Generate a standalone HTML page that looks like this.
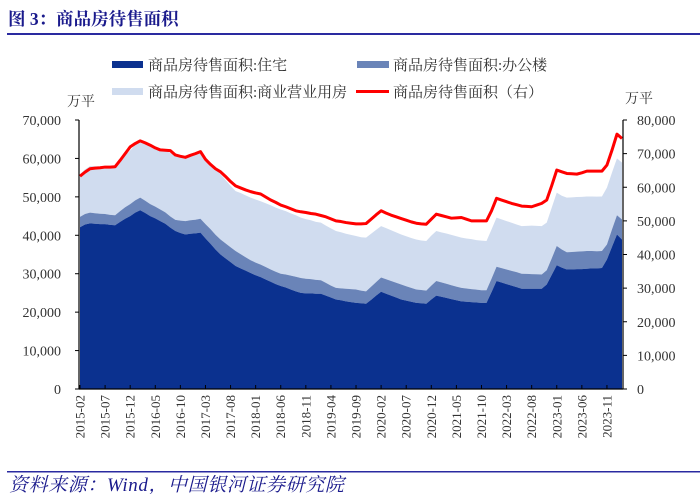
<!DOCTYPE html>
<html><head><meta charset="utf-8">
<style>
body{margin:0;background:#fff;width:700px;height:494px;overflow:hidden;font-family:"Liberation Serif","Noto Serif CJK SC",serif;}
svg{display:block}
</style></head>
<body>
<svg id="chart" width="700" height="494">
  <text x="8" y="25" font-size="17.5" font-weight="bold" fill="#1a1a8c" font-family="Liberation Serif, Noto Serif CJK SC, serif">图 3：商品房待售面积</text>
  <rect x="7" y="33" width="693" height="2" fill="#2a2aa0"/>
  <g font-size="15" fill="#333">
    <g><rect x="112" y="61" width="31" height="7" fill="#0b318f"/><text x="148" y="70">商品房待售面积:住宅</text></g>
    <g><rect x="357" y="61" width="32" height="7" fill="#6a84b8"/><text x="393" y="70">商品房待售面积:办公楼</text></g>
    <g><rect x="112" y="88" width="31" height="7" fill="#d0dcef"/><text x="148" y="97">商品房待售面积:商业营业用房</text></g>
    <g><rect x="356" y="90" width="33" height="3" fill="#ff0000"/><text x="393" y="97">商品房待售面积（右）</text></g>
  </g>
  <text x="67" y="106" font-size="14" fill="#333">万平</text>
  <text x="625" y="103" font-size="14" fill="#333">万平</text>
  <g id="plot"></g>
  <rect x="7" y="471" width="693" height="1.5" fill="#2a2aa0"/>
  <text x="9" y="491" font-size="19" font-style="italic" letter-spacing="0.6" fill="#1a1a8c">资料来源：Wind，中国银河证券研究院</text>
</svg>
<script>
const residential=[42100,42800,43100,43000,42900,42900,42700,42600,43500,44300,45000,45900,
46500,45800,45000,44400,43700,43000,42000,41100,40600,40200,40400,40500,
40700,39200,37800,36300,35000,34000,33000,32000,31400,30800,30200,29600,
29100,28500,27900,27300,26800,26400,25900,25400,25000,24900,24900,24800,
24800,24300,23800,23300,23100,22800,22600,22400,22300,22200,23200,24300,
25300,24800,24300,23800,23300,23000,22700,22400,22300,22200,23300,24300,
24000,23700,23400,23100,22800,22700,22600,22500,22400,22400,25200,28100,
27700,27300,26900,26500,26100,26100,26100,26100,26100,27200,29700,32200,
31600,31100,31100,31200,31200,31300,31400,31400,31500,33700,37000,40200,38900];
const office=[2700,2750,2800,2750,2700,2650,2600,2600,2800,3000,3100,3200,
3300,3200,3100,3050,3000,2950,2900,2900,3200,3500,3500,3550,
3600,3700,3800,3850,3900,3900,3900,3900,3700,3500,3300,3300,
3250,3250,3200,3200,3200,3400,3600,3800,3900,3800,3700,3600,
3500,3300,3100,3000,3100,3300,3400,3500,3300,3200,3400,3500,
3700,3750,3800,3850,3900,3750,3600,3500,3450,3400,3600,3800,
3750,3700,3600,3550,3500,3450,3400,3350,3300,3300,3500,3700,
3750,3800,3850,3900,3900,3850,3800,3750,3700,3700,4300,5000,
4700,4500,4550,4550,4600,4600,4500,4450,4400,3900,4500,5000,5200];
const commercial=[11100,11600,12100,12200,12300,12400,12500,12700,12800,13500,14000,14400,
14800,15000,15200,15500,15700,16100,16500,16800,16800,16800,16900,17000,
17200,17100,17100,17000,17000,16500,16000,15600,15900,16100,16300,16400,
16500,16600,16700,16700,16700,16500,16200,16000,15700,15500,15300,15100,
15000,14900,14900,14800,14600,14300,14100,13900,13900,14000,13800,13600,
13400,13300,13200,13100,13000,13000,13000,13000,12900,12900,13000,13000,
13000,13050,13100,13100,13100,13000,13000,12900,12900,12800,12800,12800,
12700,12600,12500,12400,12400,12500,12600,12600,12600,12400,13200,13900,
14000,14200,14200,14200,14200,14200,14200,14200,14200,14800,14800,14800,14800];
const totalRight=[63300,64500,65500,65700,65800,66000,66000,66100,68000,70000,72000,73000,
73800,73200,72500,71700,71100,71000,70900,69600,69200,68900,69500,70000,
70600,68300,66800,65500,64600,63200,61700,60400,59800,59200,58700,58300,
58000,57100,56200,55500,54700,54200,53600,53000,52700,52500,52200,52000,
51600,51200,50600,50000,49800,49500,49300,49100,49100,49200,50500,51800,
53000,52300,51700,51200,50700,50200,49700,49300,49100,49000,50500,52000,
51600,51200,50800,50900,51000,50500,50000,50000,50000,50000,53000,56700,
56200,55700,55200,54800,54400,54300,54200,54700,55200,56200,60500,65100,
64600,64100,64000,63900,64300,64800,64800,64800,64800,66600,71000,75800,74500];
const leftTicks=[0,10000,20000,30000,40000,50000,60000,70000];
const rightTicks=[0,10000,20000,30000,40000,50000,60000,70000,80000];
const startYear=2015,startMonth=2;

const NS="http://www.w3.org/2000/svg";
const plot=document.getElementById('plot');
const X0=80,X1=622,Y0=389,YT=120;
const n=residential.length;
const xs=i=>X0+(X1-X0)*i/(n-1);
const yL=v=>Y0-(Y0-YT)*v/70000;
const yR=v=>Y0-(Y0-YT)*v/80000;
function mk(tag,attrs){const e=document.createElementNS(NS,tag);for(const k in attrs)e.setAttribute(k,attrs[k]);plot.appendChild(e);return e;}
function fmt(v){return v.toLocaleString('en-US');}

const base=residential.map(()=>0);
const l1=residential.map((v,i)=>v);
const l2=l1.map((v,i)=>v+office[i]);
const l3=l2.map((v,i)=>v+commercial[i]);
function area(top,bot,color,name){
  let d='M'+xs(0)+','+yL(top[0]);
  for(let i=1;i<n;i++)d+='L'+xs(i)+','+yL(top[i]);
  for(let i=n-1;i>=0;i--)d+='L'+xs(i)+','+yL(bot[i]);
  const p=mk('path',{d:d+'Z',fill:color});
  
  
}
area(l3,l2,'#d0dcef','area-commercial');
area(l2,l1,'#6a84b8','area-office');
area(l1,base,'#0b318f','area-residential');

let ld='';
for(let i=0;i<n;i++)ld+=(i?'L':'M')+xs(i)+','+yR(totalRight[i]);
const line=mk('path',{d:ld,fill:'none',stroke:'#ff0000','stroke-width':3,'stroke-linejoin':'round'});



const la=mk('line',{x1:X0-1,y1:YT,x2:X0-1,y2:Y0,stroke:'#000','stroke-width':1.2});


const ra=mk('line',{x1:X1+1,y1:YT,x2:X1+1,y2:Y0,stroke:'#000','stroke-width':1.2});


const xa=mk('line',{x1:X0-1,y1:Y0,x2:X1+1,y2:Y0,stroke:'#000','stroke-width':1.2});



leftTicks.forEach(v=>{
  const y=yL(v);
  mk('line',{x1:X0-5,y1:y,x2:X0-1,y2:y,stroke:'#000'});
  const t=mk('text',{x:61,y:y+5,'text-anchor':'end','font-size':14,fill:'#333'});
  t.textContent=fmt(v);
  
  
});
rightTicks.forEach(v=>{
  const y=yR(v);
  mk('line',{x1:X1+1,y1:y,x2:X1+5,y2:y,stroke:'#000'});
  const t=mk('text',{x:637,y:y+5,'font-size':14,fill:'#333'});
  t.textContent=fmt(v);
  
  
});
for(let i=0;i<n;i+=5){
  const x=xs(i);
  mk('line',{x1:x,y1:Y0,x2:x,y2:Y0-4,stroke:'#000'});
  const m=startMonth-1+i, yr=startYear+Math.floor(m/12), mo=(m%12)+1;
  const t=mk('text',{x:0,y:0,'font-size':13,fill:'#333','text-anchor':'end',transform:'translate('+(x+4.5)+','+(Y0+6)+') rotate(-90)'});
  t.textContent=yr+'-'+String(mo).padStart(2,'0');
  
  
}
</script>
</body></html>
